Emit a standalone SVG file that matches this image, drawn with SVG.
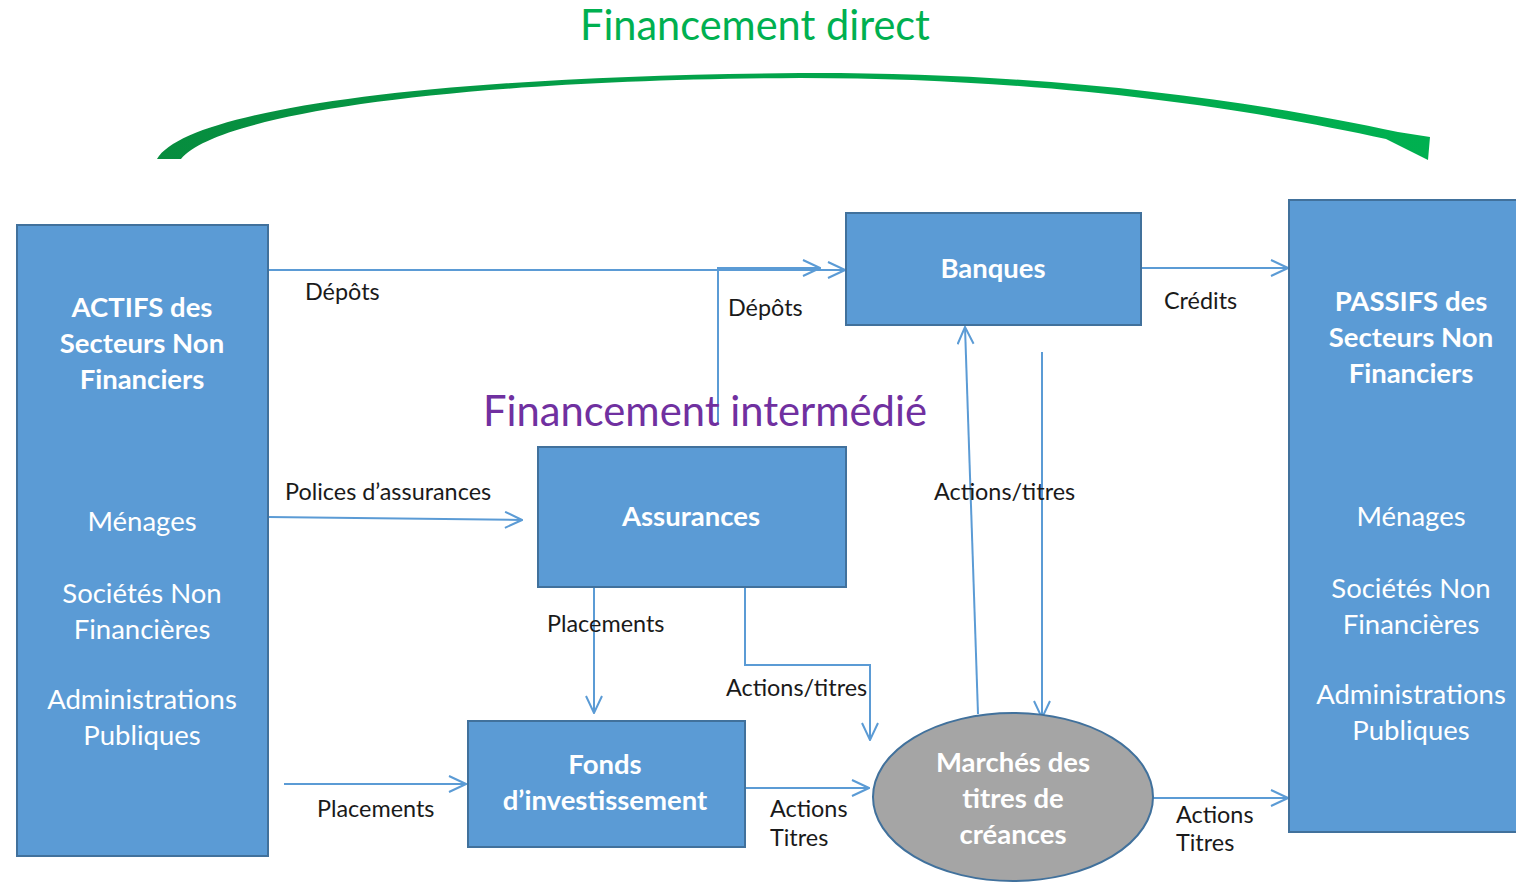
<svg xmlns="http://www.w3.org/2000/svg" width="1516" height="883" viewBox="0 0 1516 883">
<defs>
<style>
.box{fill:#5B9BD5;stroke:#41719C;stroke-width:2}
.ell{fill:#A5A5A5;stroke:#41719C;stroke-width:2}
.nt{font-family:Lato,"Liberation Sans",sans-serif;font-size:27.5px;fill:#fff;text-anchor:middle}
.b{font-weight:bold}
.lb{font-family:Lato,"Liberation Sans",sans-serif;font-size:23.4px;fill:#1a1a1a}
.cn{fill:none;stroke:#5B9BD5;stroke-width:2;marker-end:url(#ah)}
.tt{font-family:Lato,"Liberation Sans",sans-serif;font-size:42px;text-anchor:middle}
</style>
<marker id="ah" markerUnits="userSpaceOnUse" viewBox="0 0 20 18" markerWidth="20" markerHeight="18" refX="19" refY="9" orient="auto">
<path d="M2,1 L19,9 L2,17" fill="none" stroke="#5B9BD5" stroke-width="2"/>
</marker>
<linearGradient id="gg" x1="0" y1="0" x2="1" y2="0">
<stop offset="0" stop-color="#078C3E"/>
<stop offset="0.4" stop-color="#03A24A"/>
<stop offset="1" stop-color="#00B050"/>
</linearGradient>
</defs>
<rect width="1516" height="883" fill="#fff"/>
<g id="title-direct">
<text class="tt" x="755" y="40" fill="#00B050" textLength="350" lengthAdjust="spacingAndGlyphs">Financement direct</text>
</g>
<g id="arc">
<path d="M157,159 C185,111 420,76 800,73 C1050,72 1250,100 1398,132 L1430,137 L1428,160 L1386,139 C1250,109 1050,78 800,78 C440,80 215,116 181,159 Z" fill="url(#gg)"/>
</g>
<g id="connectors">
<polyline class="cn" points="268,270 845,270"/>
<polyline class="cn" points="718,425 718,268 820,268"/>
<polyline class="cn" points="1141,268 1288,268"/>
<polyline class="cn" points="268,517 522,520"/>
<polyline class="cn" points="594,588 594,713"/>
<polyline class="cn" points="745,588 745,665 870,665 870,740"/>
<polyline class="cn" points="284,784 466,784"/>
<polyline class="cn" points="745,788 869,788"/>
<polyline class="cn" points="1153,798 1288,798"/>
<polyline class="cn" points="978,714 965,327"/>
<polyline class="cn" points="1042,352 1042,718"/>
</g>
<g id="labels">
<text class="lb" x="305" y="300">Dépôts</text>
<text class="lb" x="728" y="316">Dépôts</text>
<text class="lb" x="1164" y="309">Crédits</text>
<text class="lb" x="285" y="500">Polices d’assurances</text>
<text class="lb" x="547" y="632">Placements</text>
<text class="lb" x="726" y="696">Actions/titres</text>
<text class="lb" x="934" y="500">Actions/titres</text>
<text class="lb" x="317" y="817">Placements</text>
<text class="lb" x="770" y="817">Actions</text>
<text class="lb" x="770" y="846">Titres</text>
<text class="lb" x="1176" y="823">Actions</text>
<text class="lb" x="1176" y="851">Titres</text>
</g>
<g id="title-intermedie">
<text class="tt" x="705" y="426" fill="#7030A0" textLength="444" lengthAdjust="spacingAndGlyphs">Financement intermédié</text>
</g>
<g id="actifs">
<rect class="box" x="17" y="225" width="251" height="631"/>
<text class="nt b" x="142" y="317">ACTIFS des</text>
<text class="nt b" x="142" y="353">Secteurs Non</text>
<text class="nt b" x="142" y="389">Financiers</text>
<text class="nt" x="142" y="531">Ménages</text>
<text class="nt" x="142" y="603">Sociétés Non</text>
<text class="nt" x="142" y="639">Financières</text>
<text class="nt" x="142" y="709">Administrations</text>
<text class="nt" x="142" y="745">Publiques</text>
</g>
<g id="passifs">
<rect class="box" x="1289" y="200" width="240" height="632"/>
<text class="nt b" x="1411" y="311">PASSIFS des</text>
<text class="nt b" x="1411" y="347">Secteurs Non</text>
<text class="nt b" x="1411" y="383">Financiers</text>
<text class="nt" x="1411" y="526">Ménages</text>
<text class="nt" x="1411" y="598">Sociétés Non</text>
<text class="nt" x="1411" y="634">Financières</text>
<text class="nt" x="1411" y="704">Administrations</text>
<text class="nt" x="1411" y="740">Publiques</text>
</g>
<g id="banques">
<rect class="box" x="846" y="213" width="295" height="112"/>
<text class="nt b" x="993" y="278">Banques</text>
</g>
<g id="assurances">
<rect class="box" x="538" y="447" width="308" height="140"/>
<text class="nt b" x="691" y="526">Assurances</text>
</g>
<g id="fonds">
<rect class="box" x="468" y="721" width="277" height="126"/>
<text class="nt b" x="605" y="774">Fonds</text>
<text class="nt b" x="605" y="810">d’investissement</text>
</g>
<g id="marches">
<ellipse class="ell" cx="1013" cy="797" rx="140" ry="84"/>
<text class="nt b" x="1013" y="772">Marchés des</text>
<text class="nt b" x="1013" y="808">titres de</text>
<text class="nt b" x="1013" y="844">créances</text>
</g>
</svg>
